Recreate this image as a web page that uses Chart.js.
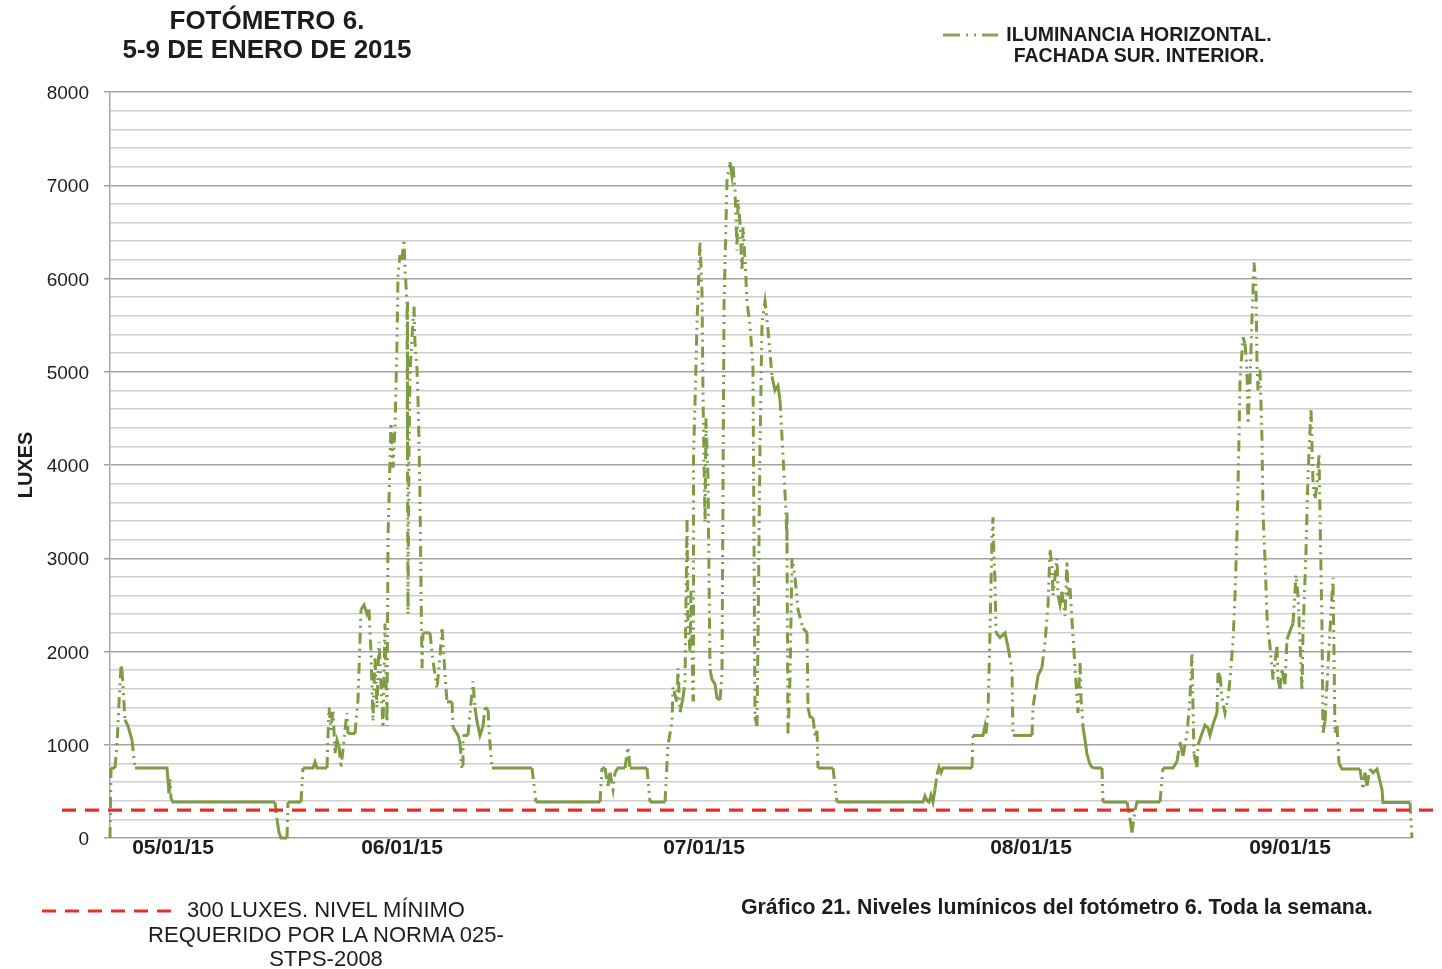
<!DOCTYPE html>
<html>
<head>
<meta charset="utf-8">
<script src="https://cdn.jsdelivr.net/npm/chart.js@4.4.1/dist/chart.umd.min.js"></script>
<style>
  html, body { margin: 0; padding: 0; background: #fff; }
  #wrap { position: relative; width: 1442px; height: 969px; overflow: hidden; font-family: "Liberation Sans", Arial, sans-serif; color: #1d1d1d; }
  canvas { position: absolute; left: 0; top: 0; }
  .t { position: absolute; white-space: nowrap; }
  #title { left: 67px; width: 400px; top: 6px; text-align: center; font-weight: bold; font-size: 26px; line-height: 29px; }
  #legG { left: 999px; width: 280px; top: 24px; text-align: center; font-weight: bold; font-size: 19.5px; line-height: 21px; }
  #legR { left: 126px; width: 400px; top: 898px; text-align: center; font-size: 22px; line-height: 24.5px; }
  #caption { left: 741px; top: 895px; font-weight: bold; font-size: 21.3px; line-height: 24px; }
  svg { position: absolute; left: 0; top: 0; }
</style>
</head>
<body>
<div id="wrap">
  <canvas id="c" width="1442" height="969"></canvas>
  <svg width="1442" height="969">
    <line x1="943" y1="35" x2="998" y2="35" stroke="#8aa55a" stroke-width="3" stroke-dasharray="17,6,2,6,2,6"/>
    <line x1="42" y1="911" x2="172" y2="911" stroke="#e3302c" stroke-width="3.2" stroke-dasharray="14,9"/>
  </svg>
  <div id="title" class="t">FOTÓMETRO 6.<br>5-9 DE ENERO DE 2015</div>
  <div id="legG" class="t">ILUMINANCIA HORIZONTAL.<br>FACHADA SUR. INTERIOR.</div>
  <div id="legR" class="t">300 LUXES. NIVEL MÍNIMO<br>REQUERIDO POR LA NORMA 025-<br>STPS-2008</div>
  <div id="caption" class="t">Gráfico 21. Niveles lumínicos del fotómetro 6. Toda la semana.</div>
</div>
<script>
// Each entry: [muestra (sample position along the week), luxes]
const dia05 = [[0,0],[1,750],[5,750],[7,1000],[9,1450],[11,1840],[12,1800],[13,1620],[15,1270],[18,1200],[22,1050],[25,750],[57,750],[58,620],[59,480],[60,640],[61,420],[63,385],[165,385],[167,200],[169,60],[171,0],[177,0],[178,385],[190,385]];
const dia06 = [[191,385],[193,750],[203,750],[205,815],[207,750],[217,750],[219,1400],[221,1160],[223,1380],[225,910],[227,1050],[229,980],[231,750],[233,950],[235,1160],[237,1340],[238,1120],[245,1120],[248,1480],[251,2450],[254,2500],[257,2400],[259,2450],[261,1980],[263,1250],[265,1950],[267,1400],[269,2100],[271,1650],[273,1180],[275,2300],[277,1200],[278,3200],[280,4050],[281,4450],[283,3970],[285,4400],[287,5300],[288,6040],[290,6250],[292,6200],[294,6420],[295,6100],[297,5750],[297.5,4050],[298,2400],[299,4200],[300,5000],[302,5370],[304,5700],[305,5300],[307,5030],[308,4700],[309,4270],[310,3630],[312,1820],[313,2200],[320,2200],[323,1900],[327,1600],[330,1950],[332,2260],[333,2100],[335,1750],[337,1460],[342,1460],[343,1190],[348,1100],[350,1020],[352,740],[353,1100],[358,1100],[361,1450],[363,1680],[365,1400],[367,1250],[370,1100],[373,1200],[375,1400],[378,1380],[380,1000],[382,750],[422,750],[426,385],[490,385]];
const dia07 = [[492,750],[495,750],[498,560],[500,700],[503,520],[505,700],[508,750],[515,750],[518,975],[520,750],[537,750],[540,385],[555,385],[558,1000],[562,1240],[563,1620],[567,1450],[568,1820],[570,1350],[573,1500],[575,1680],[577,3420],[578,2300],[580,2000],[581,2670],[583,1480],[583.5,4090],[585,4660],[587,5520],[590,6400],[592,5850],[593,4750],[595,3380],[596,4500],[598,3850],[600,1810],[602,1700],[605,1650],[607,1500],[610,1480],[612,1750],[614,5700],[617,7050],[620,7250],[622,7100],[623,7200],[625,6950],[627,6300],[628,6850],[630,6600],[632,6080],[633,6550],[635,6200],[637,5750],[640,5500],[643,5040],[645,1300],[647,1200],[648,2160],[650,4200],[652,5520],[655,5750],[658,5450],[662,4950],[665,4800],[668,4850],[670,4700],[673,4100],[676,3500],[677,3140],[678,1100],[680,1700],[682,3000],[685,2800],[688,2450],[693,2250],[697,2200],[698,1400],[700,1300],[703,1290],[705,1100],[707,1150],[708,750],[723,750],[727,385]];
const dia08 = [[813,385],[815,450],[817,400],[819,385],[821,460],[823,385],[825,520],[827,680],[829,760],[831,700],[833,750],[862,750],[863,1100],[873,1100],[875,1200],[876,1120],[878,1340],[880,2200],[882,3230],[883,3440],[884,3000],[885,2770],[886,2200],[890,2150],[895,2200],[898,2050],[902,1800],[903,1100],[922,1100],[923,1410],[926,1600],[928,1740],[932,1830],[935,2100],[938,2490],[940,3100],[942,2900],[943,2600],[945,2800],[947,3000],[948,2600],[950,2500],[952,2640],[955,2380],[957,2970],[958,2600],[960,2680],[962,2330],[964,2000],[967,1500],[968,1340],[970,1900],[971,1500],[973,1190],[975,1050],[977,900],[980,790],[982,760],[985,750],[992,750],[993,385],[1017,385],[1020,200],[1022,60],[1025,300],[1027,385],[1050,385]];
const dia09 = [[1053,750],[1063,750],[1067,820],[1070,1030],[1073,880],[1077,1120],[1080,1500],[1082,1990],[1083,1400],[1084,900],[1087,760],[1088,1000],[1092,1120],[1095,1210],[1098,1180],[1100,1100],[1103,1220],[1107,1340],[1108,1770],[1110,1740],[1112,1500],[1115,1340],[1118,1500],[1120,1700],[1123,2100],[1125,2600],[1127,3270],[1129,4280],[1130,4890],[1132,5210],[1133,5370],[1135,5300],[1137,5010],[1138,4440],[1140,4890],[1142,5580],[1144,6170],[1146,5900],[1147,5090],[1148,4800],[1150,5020],[1152,4280],[1153,3470],[1155,2990],[1157,2380],[1158,2220],[1160,2060],[1163,1700],[1165,1900],[1167,2050],[1168,1700],[1170,1600],[1172,1800],[1175,1650],[1177,2130],[1180,2220],[1183,2300],[1186,2820],[1188,2600],[1191,1850],[1192,1580],[1193,2200],[1196,3070],[1198,3880],[1201,4610],[1202,4200],[1203,3800],[1205,3630],[1207,3800],[1209,4120],[1210,3470],[1212,2260],[1213,1130],[1215,1250],[1218,1850],[1223,2790],[1224,2000],[1225,1130],[1227,1200],[1229,800],[1232,740],[1250,740],[1253,520],[1255,700],[1257,560],[1260,740],[1263,700],[1267,740],[1269,650],[1272,520],[1273,380],[1300,380],[1302,0]];

const fechas = ['05/01/15', '06/01/15', '07/01/15', '08/01/15', '09/01/15'];
const fechaMuestra = [63, 292, 594, 921, 1180];
const normaLuxes = 300;
const normaTramo = [-48, 1335];
const ejeMin = 0, ejeMax = 1302;

const serie = [].concat(dia05, dia06, dia07, dia08, dia09).map(p => ({ x: p[0], y: p[1] }));
const norma = normaTramo.map(x => ({ x: x, y: normaLuxes }));

const FONT = "'Liberation Sans', Arial, sans-serif";

new Chart(document.getElementById('c'), {
  type: 'line',
  data: {
    datasets: [
      {
        label: '300 LUXES. NIVEL MÍNIMO REQUERIDO POR LA NORMA 025-STPS-2008',
        data: norma,
        borderColor: '#e3302c',
        borderWidth: 3.2,
        borderDash: [14, 9],
        pointRadius: 0,
        clip: false
      },
      {
        label: 'ILUMINANCIA HORIZONTAL. FACHADA SUR. INTERIOR.',
        data: serie,
        borderColor: '#7f9c45',
        borderWidth: 3,
        borderDash: [],
        pointRadius: 0,
        tension: 0,
        clip: false,
        segment: {
          borderDash: c => {
            const dx = Math.abs(c.p1.x - c.p0.x), dy = Math.abs(c.p1.y - c.p0.y);
            return (dy > 14 && dy > 3 * dx) ? [11, 5, 2, 5, 2, 5] : undefined;
          }
        }
      }
    ]
  },
  options: {
    responsive: false,
    animation: false,
    devicePixelRatio: 1,
    layout: { padding: { left: 0, top: 92, right: 30, bottom: 0 } },
    plugins: { legend: { display: false }, tooltip: { enabled: false }, title: { display: false } },
    scales: {
      x: {
        type: 'linear',
        min: ejeMin,
        max: ejeMax,
        afterFit: s => { s.height = 131; },
        afterBuildTicks: s => { s.ticks = fechaMuestra.map(v => ({ value: v })); },
        grid: { display: false, drawTicks: false },
        border: { display: false },
        ticks: {
          autoSkip: false,
          maxRotation: 0,
          padding: -2,
          color: '#1d1d1d',
          font: { family: FONT, size: 21, weight: 'bold' },
          callback: v => { const i = fechaMuestra.indexOf(v); return i >= 0 ? fechas[i] : ''; }
        }
      },
      y: {
        type: 'linear',
        min: 0,
        max: 8000,
        afterFit: s => { s.width = 110; },
        title: {
          display: true,
          text: 'LUXES',
          color: '#1d1d1d',
          font: { family: FONT, size: 20, weight: 'bold' },
          padding: { top: 14, bottom: 0 }
        },
        border: { display: true, color: '#a8a8a8', width: 1.5 },
        grid: {
          color: c => (c.tick && c.tick.value % 1000 === 0) ? '#a3a3a3' : '#cfcfcf',
          lineWidth: 1.5,
          tickLength: 6,
          tickColor: c => (c.tick && c.tick.value % 1000 === 0) ? '#a3a3a3' : 'rgba(0,0,0,0)'
        },
        ticks: {
          stepSize: 200,
          maxTicksLimit: 100,
          autoSkip: false,
          padding: 15,
          labelOffset: 2,
          color: '#1d1d1d',
          font: { family: FONT, size: 19 },
          callback: v => (v % 1000 === 0 ? String(v) : '')
        }
      }
    }
  }
});
</script>
</body>
</html>
